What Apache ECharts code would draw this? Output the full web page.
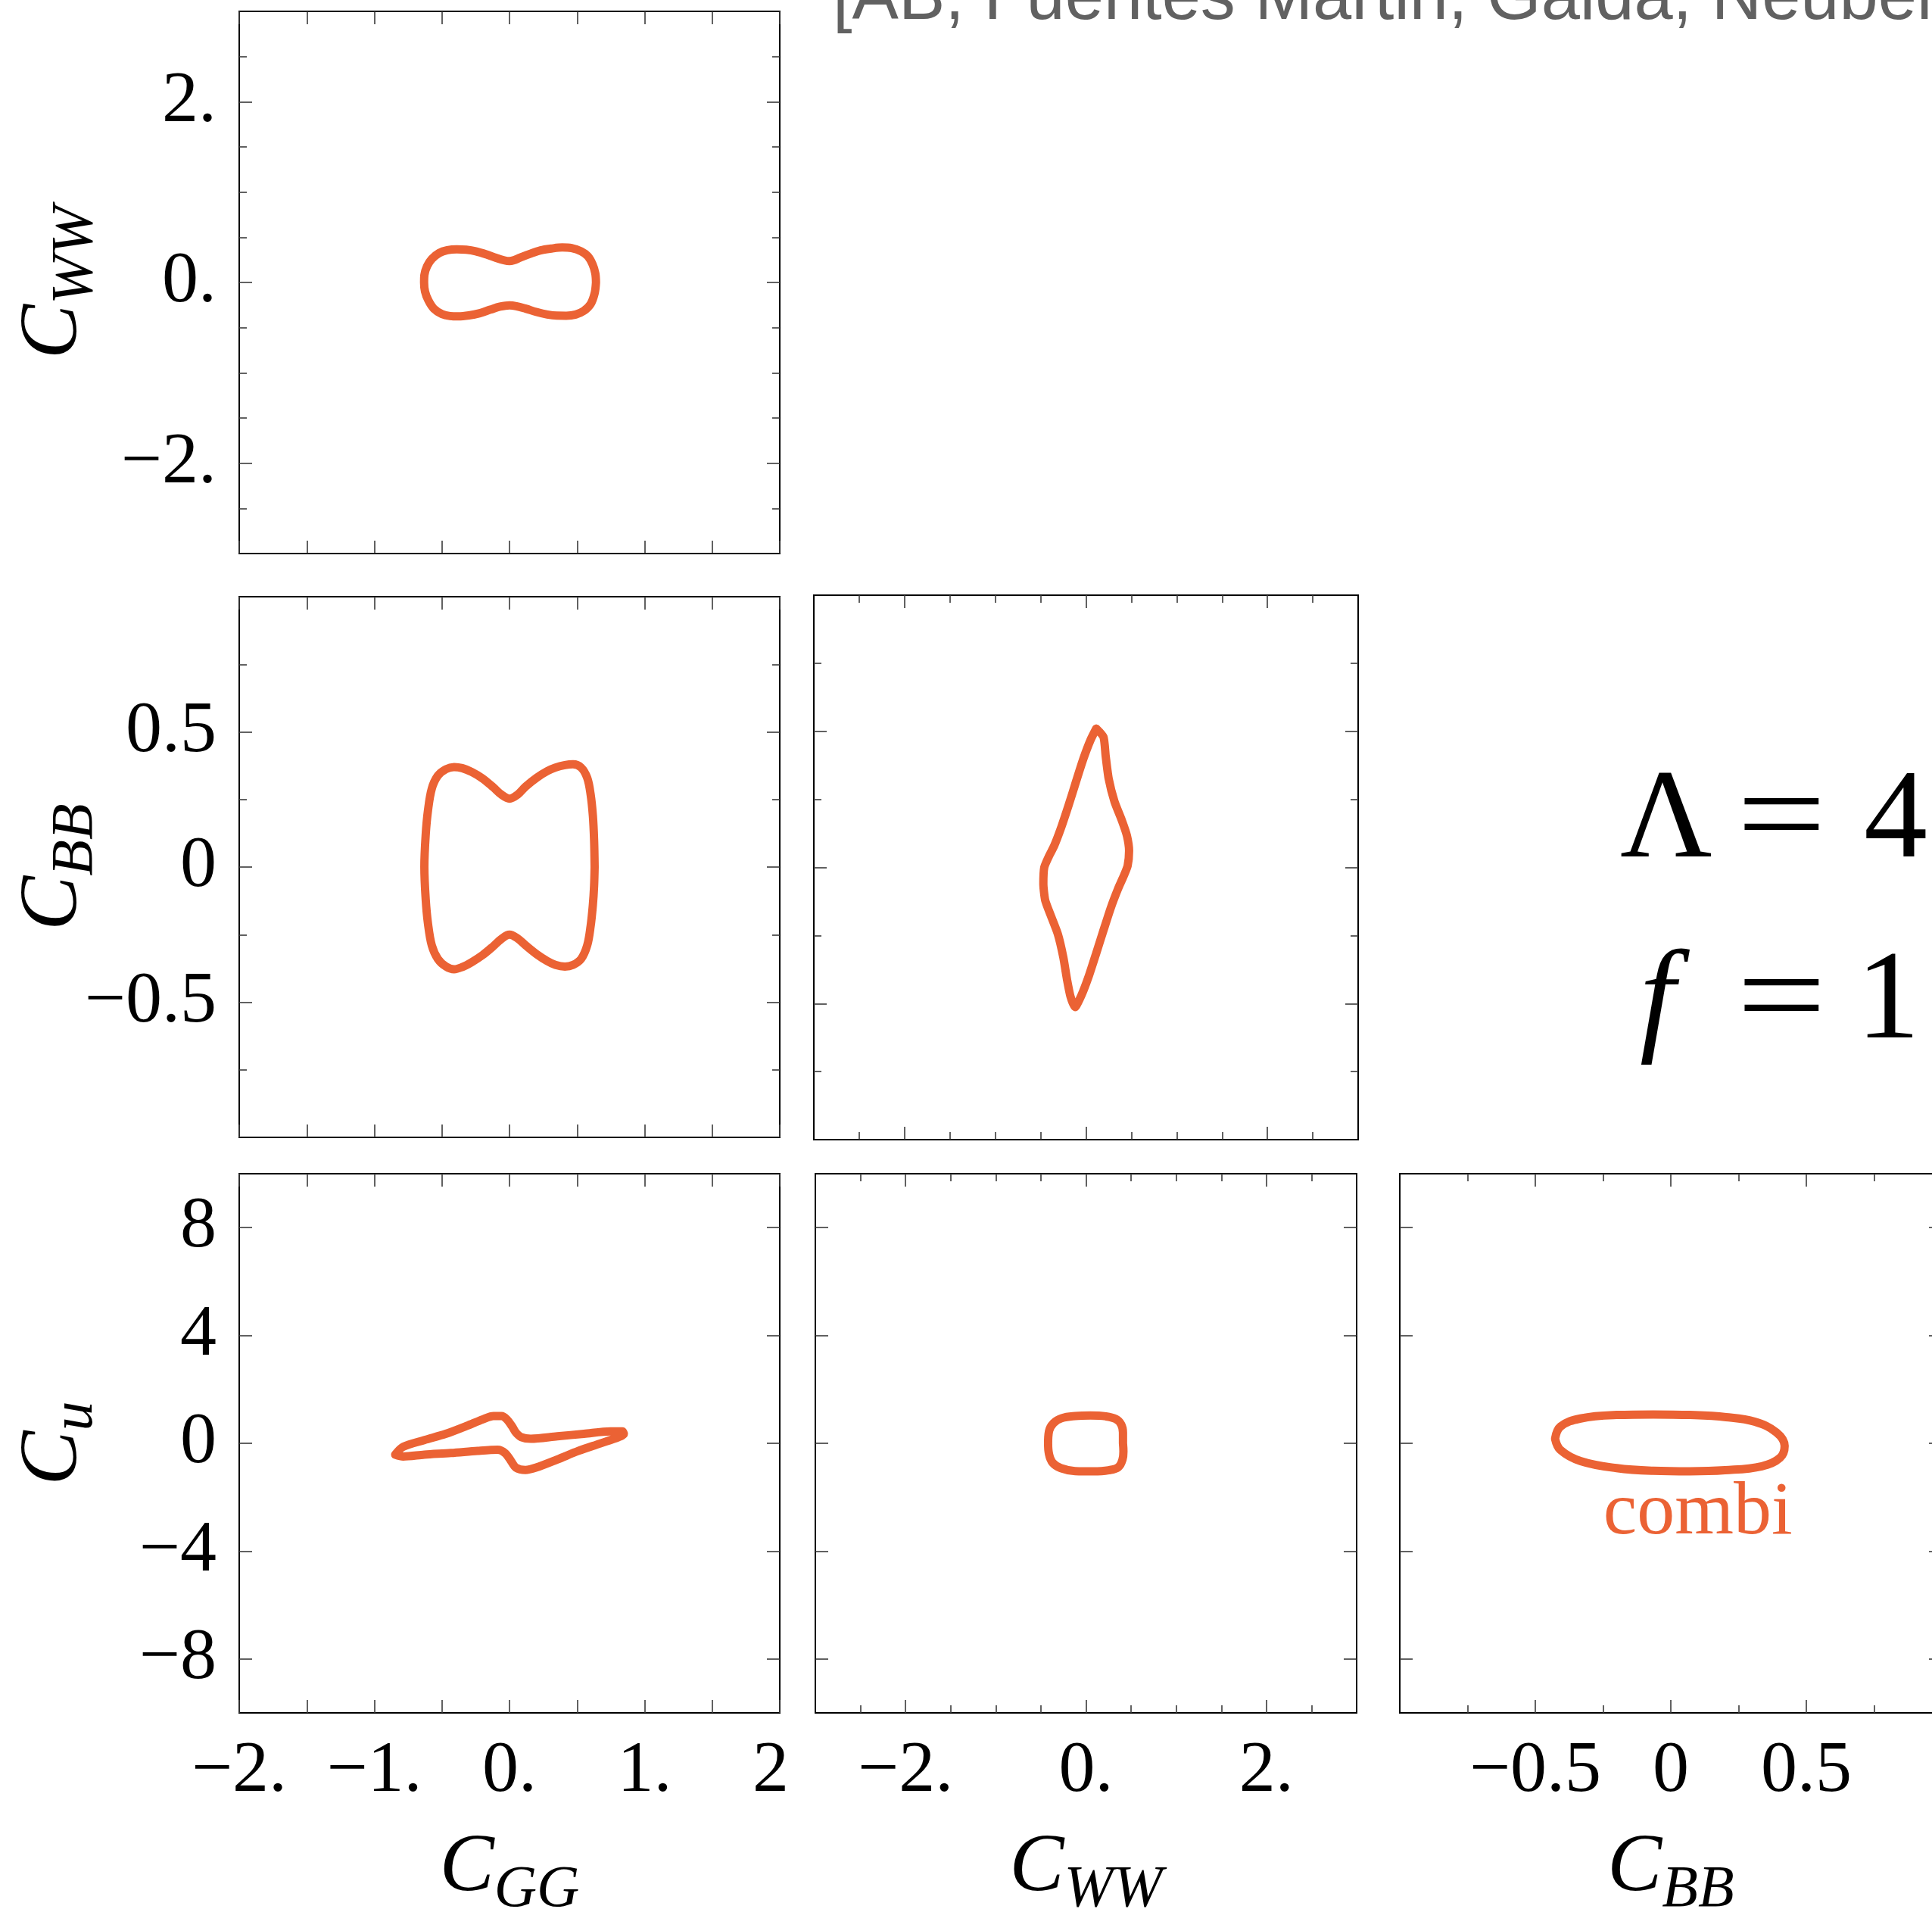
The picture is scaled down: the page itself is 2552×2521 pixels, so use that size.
<!DOCTYPE html>
<html><head><meta charset="utf-8">
<script src="https://cdn.jsdelivr.net/npm/echarts@6/dist/echarts.min.js"></script>
<style>html,body{margin:0;padding:0;background:#fff;overflow:hidden}#c{width:2552px;height:2521px;}</style>
</head><body><div id="c"></div>
<script>
// ---------- data ----------
const contourGG_WW = [[0.64,0],[0.635,0.1],[0.615,0.2],[0.58,0.29],[0.53,0.345],[0.46,0.38],[0.39,0.387],[0.31,0.375],[0.23,0.355],[0.15,0.315],[0.08,0.275],[0.03,0.245],[0,0.236],[-0.04,0.245],[-0.1,0.272],[-0.17,0.31],[-0.25,0.345],[-0.32,0.362],[-0.39,0.367],[-0.46,0.357],[-0.52,0.326],[-0.575,0.26],[-0.61,0.18],[-0.63,0.08],[-0.632,0],[-0.625,-0.1],[-0.6,-0.2],[-0.56,-0.29],[-0.5,-0.35],[-0.44,-0.372],[-0.38,-0.376],[-0.3,-0.365],[-0.22,-0.34],[-0.14,-0.3],[-0.07,-0.268],[0,-0.253],[0.05,-0.262],[0.12,-0.29],[0.2,-0.327],[0.28,-0.355],[0.35,-0.367],[0.42,-0.368],[0.49,-0.355],[0.55,-0.315],[0.6,-0.24],[0.63,-0.12],[0.64,0]];
const contourGG_BB = [[0.63,0],[0.626,0.1],[0.617,0.19],[0.6,0.27],[0.575,0.33],[0.53,0.368],[0.47,0.38],[0.41,0.377],[0.34,0.368],[0.28,0.355],[0.2,0.33],[0.12,0.298],[0.06,0.268],[0,0.253],[-0.06,0.268],[-0.12,0.295],[-0.2,0.328],[-0.28,0.352],[-0.35,0.366],[-0.41,0.37],[-0.47,0.362],[-0.53,0.338],[-0.575,0.29],[-0.603,0.21],[-0.62,0.12],[-0.63,0],[-0.62,-0.12],[-0.603,-0.21],[-0.575,-0.29],[-0.53,-0.34],[-0.47,-0.368],[-0.41,-0.378],[-0.35,-0.37],[-0.28,-0.352],[-0.2,-0.326],[-0.12,-0.293],[-0.06,-0.266],[0,-0.25],[0.06,-0.264],[0.12,-0.29],[0.2,-0.322],[0.28,-0.348],[0.34,-0.362],[0.41,-0.368],[0.47,-0.362],[0.53,-0.34],[0.575,-0.29],[0.6,-0.22],[0.617,-0.14],[0.626,-0.07],[0.63,0]];
const contourWW_BB = [[0.113,0.51],[0.193,0.479],[0.217,0.409],[0.25,0.326],[0.314,0.242],[0.395,0.173],[0.451,0.117],[0.475,0.061],[0.459,0.006],[0.41,-0.036],[0.354,-0.078],[0.274,-0.148],[0.193,-0.231],[0.113,-0.315],[0.032,-0.398],[-0.048,-0.468],[-0.121,-0.513],[-0.17,-0.475],[-0.21,-0.41],[-0.25,-0.33],[-0.31,-0.245],[-0.39,-0.175],[-0.45,-0.12],[-0.47,-0.06],[-0.46,0.0],[-0.41,0.04],[-0.35,0.08],[-0.27,0.15],[-0.19,0.23],[-0.11,0.315],[-0.03,0.398],[0.05,0.468],[0.113,0.51]];
const contourGG_u = [[-0.846,-0.42],[-0.787,-0.13],[-0.63,0.12],[-0.472,0.35],[-0.315,0.65],[-0.197,0.89],[-0.118,1.01],[-0.059,1.01],[-0.02,0.89],[0.02,0.62],[0.047,0.4],[0.087,0.23],[0.157,0.17],[0.354,0.26],[0.551,0.35],[0.748,0.44],[0.835,0.44],[0.846,0.35],[0.807,0.23],[0.669,-0.01],[0.512,-0.28],[0.354,-0.6],[0.197,-0.9],[0.118,-0.99],[0.047,-0.9],[0.008,-0.63],[-0.031,-0.37],[-0.087,-0.24],[-0.236,-0.28],[-0.433,-0.36],[-0.63,-0.42],[-0.787,-0.49],[-0.846,-0.42]];
const contourWW_u = [[0.41,0],[0.41,0.4],[0.39,0.7],[0.33,0.9],[0.22,1.0],[0.05,1.03],[-0.12,1.01],[-0.27,0.93],[-0.36,0.75],[-0.41,0.45],[-0.42,0.0],[-0.41,-0.4],[-0.37,-0.72],[-0.28,-0.92],[-0.12,-1.03],[0.08,-1.04],[0.25,-1.0],[0.36,-0.88],[0.405,-0.6],[0.415,-0.3],[0.41,0]];
const contourBB_u = [[-0.427,0.17],[-0.407,0.62],[-0.333,0.92],[-0.2,1.05],[-0.065,1.07],[0.07,1.05],[0.204,0.97],[0.31,0.8],[0.39,0.4],[0.42,-0.1],[0.403,-0.54],[0.336,-0.85],[0.2,-1.0],[0.07,-1.04],[-0.065,-1.02],[-0.2,-0.92],[-0.333,-0.66],[-0.407,-0.25],[-0.427,0.17]];
const combiLabelPos = [0.1, -2.6];

const ticksGG = [-2,-1.5,-1,-0.5,0,0.5,1,1.5,2];
const labelValsGG = [-2,-1,0,1,2];
const labelsGG = ['−2.','−1.','0.','1.','{n|2}{h|.}'];
const ticksWWmajor = [-2,0,2];
const ticksWWminor = [-2.5,-1.5,-1,-0.5,0.5,1,1.5,2.5];
const labelsWW = ['−2.','0.','2.'];
const ticksBBmajor = [-0.5,0,0.5];
const ticksBBminor = [-0.75,-0.25,0.25,0.75];
const labelsBB = ['−0.5','0','0.5'];
const ticksU = [-8,-4,0,4,8];
const labelsU = ['−8','−4','0','4','8'];

const titleText = '[AB, Fuentes Martin, Galda, Neubert]';
const lambdaText = ['Λ', '=', '4 TeV'];
const fText = ['f', '=', '1 TeV'];

// ---------- styling / layout ----------
const ORANGE = '#EB6234';
const FONT = 'Liberation Serif';

const axGG = {min:-2, max:2, major:ticksGG, minor:[], labelVals:labelValsGG, labels:labelsGG, name:'GG'};
const axWW = {min:-3, max:3, major:ticksWWmajor, minor:ticksWWminor, labelVals:ticksWWmajor, labels:labelsWW, name:'WW'};
const axBB = {min:-1, max:1, major:ticksBBmajor, minor:ticksBBminor, labelVals:ticksBBmajor, labels:labelsBB, name:'BB'};
const axU  = {min:-10, max:10, major:ticksU, minor:[], labelVals:ticksU, labels:labelsU, name:'u'};

const panels = [
  {box:[316,15,714,716],  x:axGG, y:axWW, xl:false, yl:true,  data:contourGG_WW, smooth:0.35},
  {box:[316,788,714,714], x:axGG, y:axBB, xl:false, yl:true,  data:contourGG_BB, smooth:0.35},
  {box:[1075,786,719,719],x:axWW, y:axBB, xl:false, yl:false, data:contourWW_BB, smooth:0.2},
  {box:[316,1550,714,712],x:axGG, y:axU,  xl:true,  yl:true,  data:contourGG_u,  smooth:0.3},
  {box:[1077,1550,715,712],x:axWW,y:axU,  xl:true,  yl:false, data:contourWW_u,  smooth:0.4},
  {box:[1849,1550,716,712],x:axBB,y:axU,  xl:true,  yl:false, data:contourBB_u,  smooth:0.4, label:true}
];

function fmt(vals, texts) {
  return function (v) {
    const i = vals.findIndex(t => Math.abs(t - v) < 1e-9);
    return i < 0 ? '' : texts[i];
  };
}

function mkAxis(dim, gi, spec, pos, ticks, len, withLabels) {
  const ax = {
    type:'value', gridIndex:gi, min:spec.min, max:spec.max, position:pos,
    axisLine:{show:false, onZero:false},
    splitLine:{show:false},
    axisTick:{show:ticks.length > 0, inside:true, length:len, lineStyle:{color:'#3a3a3a', width:1.6}},
    axisLabel:{show:false},
    z:5
  };
  if (ticks.length) ax.axisTick.customValues = ticks;
  if (withLabels) {
    ax.axisLabel = {
      show:true, customValues:spec.labelVals, formatter:fmt(spec.labelVals, spec.labels),
      fontFamily:FONT, fontSize:96, color:'#000', margin:30,
      rich:{n:{fontFamily:FONT, fontSize:96, color:'#000'}, h:{fontFamily:FONT, fontSize:96, color:'rgba(0,0,0,0)'}}
    };
    ax.name = '{c|C}{s|' + spec.name + '}';
    ax.nameLocation = 'middle';
    ax.nameMoveOverlap = false;
    ax.nameGap = dim === 'x' ? 139 : 177;
    if (dim === 'y') ax.nameRotate = 90;
    ax.nameTextStyle = {rich:{
      c:{fontFamily:FONT, fontStyle:'italic', fontSize:108, color:'#000'},
      s:{fontFamily:FONT, fontStyle:'italic', fontSize:78, color:'#000', padding:[56,0,0,0]}
    }};
  }
  return ax;
}

const grids = [], xAxes = [], yAxes = [], series = [];
panels.forEach((p, gi) => {
  grids.push({left:p.box[0], top:p.box[1], width:p.box[2], height:p.box[3], show:true,
              borderColor:'#000', borderWidth:2, backgroundColor:'transparent',
              containLabel:false, outerBoundsMode:'none'});
  const xi = xAxes.length;
  xAxes.push(mkAxis('x', gi, p.x, 'bottom', p.x.major, 17, p.xl),
             mkAxis('x', gi, p.x, 'bottom', p.x.minor, 10, false),
             mkAxis('x', gi, p.x, 'top', p.x.major, 17, false),
             mkAxis('x', gi, p.x, 'top', p.x.minor, 10, false));
  const yi = yAxes.length;
  yAxes.push(mkAxis('y', gi, p.y, 'left', p.y.major, 17, p.yl),
             mkAxis('y', gi, p.y, 'left', p.y.minor, 10, false),
             mkAxis('y', gi, p.y, 'right', p.y.major, 17, false),
             mkAxis('y', gi, p.y, 'right', p.y.minor, 10, false));
  const s = {
    type:'line', xAxisIndex:xi, yAxisIndex:yi, data:p.data, showSymbol:false, symbol:'none',
    smooth:p.smooth, lineStyle:{color:ORANGE, width:11, cap:'round', join:'round'}, silent:true, z:3
  };
  if (p.label) {
    s.markPoint = {symbol:'circle', symbolSize:0, silent:true, data:[{coord:combiLabelPos,
      label:{show:true, position:'inside', formatter:'combi', fontFamily:FONT, fontSize:100, color:ORANGE}}]};
  }
  series.push(s);
});

const bigText = (txt, x, y, size, italic, sx) => ({type:'text', x:x, y:y, scaleX: sx || 1, style:{text:txt, fontFamily:FONT,
  fontSize:size, fontStyle: italic ? 'italic' : 'normal', fill:'#000', verticalAlign:'middle', align:'left'}});

const graphic = [
  {type:'text', x:1100, y:0, style:{text:titleText, fontFamily:'Liberation Sans', fontSize:92, fill:'#616161', verticalAlign:'middle', align:'left'}},
  bigText(lambdaText[0], 2140, 1087, 168, false),
  bigText(lambdaText[1], 2294, 1087, 168, false, 1.25),
  bigText(lambdaText[2], 2462, 1087, 168, false),
  bigText(fText[0], 2166, 1326, 168, true),
  bigText(fText[1], 2294, 1326, 168, false, 1.25),
  bigText(fText[2], 2452, 1326, 168, false)
];

const chart = echarts.init(document.getElementById('c'), null, {renderer:'canvas', width:2552, height:2521});
chart.setOption({
  animation:false, backgroundColor:'#fff',
  grid:grids, xAxis:xAxes, yAxis:yAxes, series:series, graphic:graphic
});
</script></body></html>
